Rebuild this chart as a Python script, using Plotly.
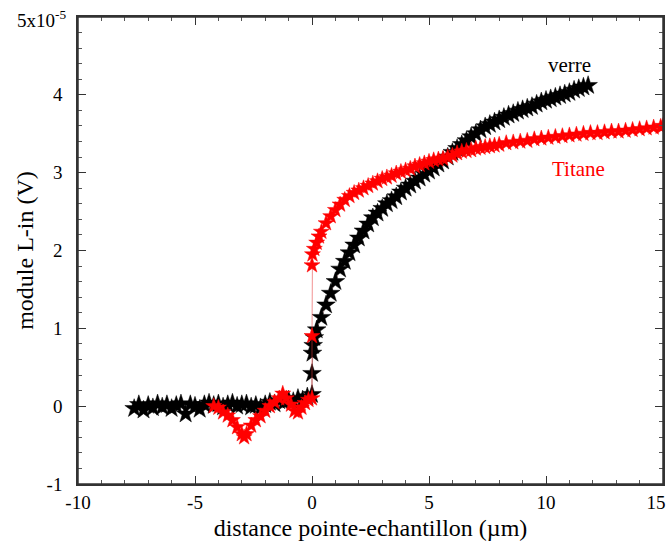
import plotly.graph_objects as go

# verre (black)
verre_x = [-7.6, -7.4, -7.2, -7.0, -6.8, -6.6, -6.4, -6.2, -6.0, -5.8, -5.6, -5.4, -5.2, -5.0,
           -4.8, -4.6, -4.4, -4.2, -4.0, -3.8, -3.6, -3.4, -3.2, -3.0, -2.8, -2.6, -2.4, -2.2,
           -2.0, -1.8, -1.6, -1.4, -1.2, -1.0, -0.8, -0.6, -0.4, -0.2, 0.0,
           0.0, 0.02, 0.05, 0.1,
           0.2, 0.4, 0.6, 0.8, 1.0, 1.2, 1.4, 1.6, 1.8, 2.0, 2.2, 2.4, 2.6, 2.8, 3.0, 3.2, 3.4,
           3.6, 3.8, 4.0, 4.2, 4.4, 4.6, 4.8, 5.0, 5.2, 5.4, 5.6, 5.8, 6.0, 6.2, 6.4, 6.6, 6.8,
           7.0, 7.2, 7.4, 7.6, 7.8, 8.0, 8.2, 8.4, 8.6, 8.8, 9.0, 9.2, 9.4, 9.6, 9.8, 10.0,
           10.2, 10.4, 10.6, 10.8, 11.0, 11.2, 11.4, 11.6, 11.8]
verre_y = [-0.03, 0.02, -0.05, 0.01, -0.02, 0.03, -0.01, 0.02, -0.03, 0.01, 0.03, -0.10, 0.02, 0.00,
           -0.04, 0.02, 0.04, 0.01, 0.03, -0.01, 0.02, 0.04, 0.00, 0.02, 0.03, -0.01, 0.01, -0.02,
           0.02, 0.05, 0.03, 0.07, 0.05, 0.08, 0.06, 0.10, 0.08, 0.12, 0.15,
           0.42, 0.68, 0.78, 0.88,
           0.98, 1.14, 1.30, 1.45, 1.60, 1.76, 1.86, 1.97, 2.07, 2.16, 2.25, 2.34, 2.42, 2.48, 2.54, 2.60, 2.64,
           2.69, 2.75, 2.80, 2.84, 2.89, 2.93, 2.98, 3.02, 3.06, 3.11, 3.15, 3.20, 3.26, 3.31, 3.36, 3.41, 3.46,
           3.50, 3.55, 3.59, 3.62, 3.65, 3.68, 3.71, 3.74, 3.76, 3.79, 3.81, 3.83, 3.85, 3.88, 3.91, 3.93,
           3.95, 3.97, 3.99, 4.01, 4.03, 4.06, 4.08, 4.10, 4.12]

# Titane (red)
titane_x = [-4.2, -4.0, -3.8, -3.6, -3.4, -3.2, -3.0, -2.9, -2.8, -2.6, -2.4, -2.2, -2.0, -1.8,
            -1.6, -1.4, -1.25, -1.1, -0.9, -0.75, -0.6, -0.45, -0.3, -0.15, 0.0,
            0.0, 0.0, 0.02,
            0.1, 0.2, 0.3, 0.4, 0.6, 0.8, 1.0, 1.2, 1.4, 1.6, 1.8, 2.0, 2.2, 2.4, 2.6, 2.8, 3.0,
            3.2, 3.4, 3.6, 3.8, 4.0, 4.2, 4.4, 4.6, 4.8, 5.0, 5.2, 5.4, 5.6, 5.8, 6.0, 6.2, 6.4,
            6.6, 6.8, 7.0, 7.2, 7.4, 7.6, 7.8, 8.0, 8.3, 8.6, 8.9, 9.2, 9.5, 9.8, 10.1, 10.4,
            10.7, 11.0, 11.3, 11.6, 11.9, 12.2, 12.5, 12.8, 13.1, 13.4, 13.7, 14.0, 14.3, 14.6,
            14.9, 15.0]
titane_y = [0.00, -0.02, -0.08, -0.12, -0.18, -0.27, -0.36, -0.40, -0.36, -0.25, -0.18, -0.13, -0.06, 0.00,
            0.05, 0.10, 0.16, 0.10, 0.02, -0.06, -0.08, -0.02, 0.04, 0.08, 0.10,
            0.90, 1.81, 1.95,
            2.02, 2.10, 2.18, 2.24, 2.35, 2.44, 2.52, 2.59, 2.65, 2.70, 2.74, 2.77, 2.80, 2.83, 2.86, 2.89, 2.92,
            2.94, 2.96, 2.99, 3.01, 3.03, 3.05, 3.08, 3.10, 3.12, 3.14, 3.16, 3.17, 3.18, 3.20, 3.22, 3.25, 3.27,
            3.28, 3.29, 3.31, 3.32, 3.33, 3.34, 3.35, 3.36, 3.38, 3.39, 3.40, 3.41, 3.43, 3.44, 3.45, 3.46,
            3.47, 3.48, 3.49, 3.50, 3.51, 3.51, 3.52, 3.53, 3.53, 3.54, 3.55, 3.56, 3.57, 3.58,
            3.59, 3.60]

x_ticks = [-10, -5, 0, 5, 10, 15]
# trailing non-breaking spaces pull the last label inside the window edge, as in the reference
x_tick_labels = ["-10", "-5", "0", "5", "10", "15\u00a0\u00a0\u00a0"]
y_ticks = [-1, 0, 1, 2, 3, 4, 5]
y_tick_labels = ["-1", "0", "1", "2", "3", "4", ""]
y_scale_label = "5x10<sup>-5</sup>"

FONT = "Liberation Serif"

fig = go.Figure()
fig.add_trace(go.Scatter(
    x=verre_x, y=verre_y, mode="lines+markers", name="verre",
    line=dict(color="rgba(60,0,0,0.6)", width=0.8),
    marker=dict(symbol="star", size=14, color="black", line=dict(width=0.5, color="black")),
))
fig.add_trace(go.Scatter(
    x=titane_x, y=titane_y, mode="lines+markers", name="Titane",
    line=dict(color="rgba(230,60,60,0.7)", width=0.8),
    marker=dict(symbol="star", size=12, color="#ff0000", line=dict(width=0.5, color="#ff0000")),
))

fig.add_annotation(x=11.0, y=4.38, text="verre", showarrow=False,
                   font=dict(family=FONT, size=21, color="black"))
fig.add_annotation(x=11.4, y=3.05, text="Titane", showarrow=False,
                   font=dict(family=FONT, size=21, color="#ff0000"))
# scale label at the top of the y axis
fig.add_annotation(xref="paper", yref="paper", x=0, y=1, xanchor="right", yanchor="middle",
                   xshift=-10, yshift=-2, text=y_scale_label, showarrow=False,
                   font=dict(family=FONT, size=19, color="black"))

# plot frame
fig.add_shape(type="rect", xref="paper", yref="paper", x0=0, y0=0, x1=1, y1=1,
              line=dict(color="#333", width=1.5), fillcolor="rgba(0,0,0,0)", layer="above")

axis_common = dict(
    showgrid=False, zeroline=False, showline=True, linecolor="#333", linewidth=1.5,
    mirror="ticks", ticks="inside", ticklen=8, tickcolor="#333", tickwidth=1,
    tickfont=dict(family=FONT, size=19, color="black"), automargin=False,
    ticklabeloverflow="allow",
)

fig.update_xaxes(
    range=[-10, 15], tickvals=x_ticks, ticktext=x_tick_labels,
    minor=dict(dtick=1, ticks="inside", ticklen=4, tickcolor="#555"),
    title=dict(text="distance pointe-echantillon (µm)", font=dict(family=FONT, size=24, color="black"), standoff=8),
    **axis_common,
)
fig.update_yaxes(
    range=[-1, 5], tickvals=y_ticks, ticktext=y_tick_labels,
    minor=dict(dtick=0.2, ticks="inside", ticklen=4, tickcolor="#555"),
    ticklabelstandoff=10,
    title=dict(text="module L-in (V)", font=dict(family=FONT, size=24, color="black"), standoff=6),
    **axis_common,
)

fig.update_layout(
    width=669, height=551,
    margin=dict(l=78, r=6, t=17, b=67),
    paper_bgcolor="white", plot_bgcolor="white",
    showlegend=False,
)

# remove the default 8px page margin so the figure sits at the window's top-left corner
fig.write_html("out.html", config={"displayModeBar": False},
               post_script="document.body.style.margin='0';")
